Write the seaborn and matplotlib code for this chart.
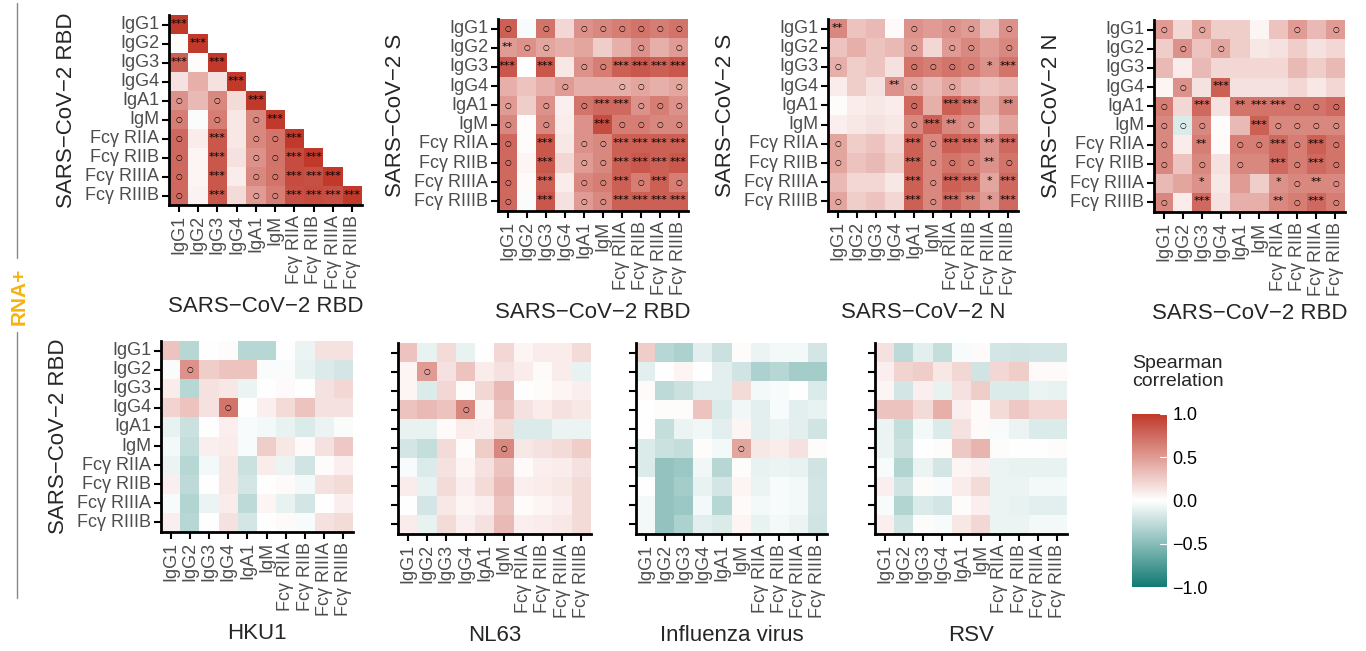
import numpy as np
import pandas as pd
import matplotlib
matplotlib.use("Agg")
import matplotlib.pyplot as plt
import seaborn as sns
from matplotlib.colors import LinearSegmentedColormap
from matplotlib.lines import Line2D

features = ["IgG1", "IgG2", "IgG3", "IgG4", "IgA1", "IgM",
            "Fcγ RIIA", "Fcγ RIIB", "Fcγ RIIIA", "Fcγ RIIIB"]

# --- correlation values (rows = y feature, cols = x feature) ---
rbd_rbd = [
    [1.0],
    [0.02, 1.0],
    [0.80, 0.02, 1.0],
    [0.15, 0.40, 0.15, 1.0],
    [0.55, 0.35, 0.60, 0.18, 1.0],
    [0.65, -0.02, 0.65, 0.12, 0.60, 1.0],
    [0.75, 0.10, 0.85, 0.12, 0.60, 0.70, 1.0],
    [0.75, 0.05, 0.85, 0.15, 0.55, 0.70, 0.90, 1.0],
    [0.75, 0.05, 0.85, 0.10, 0.60, 0.70, 0.90, 0.88, 1.0],
    [0.75, 0.06, 0.85, 0.18, 0.50, 0.65, 0.88, 0.90, 0.88, 1.0],
]
rbd_rbd_sig = [
    "***",
    ". ***",
    "*** . ***",
    ". . . ***",
    "o . o . ***",
    "o . o . o ***",
    "o . *** . o o ***",
    "o . *** . o o *** ***",
    "o . *** . o o *** *** ***",
    "o . *** . o o *** *** *** ***",
]

s_rbd = [
    [0.80, -0.03, 0.70, 0.20, 0.55, 0.60, 0.65, 0.70, 0.65, 0.70],
    [0.50, 0.55, 0.45, 0.40, 0.45, 0.25, 0.40, 0.55, 0.40, 0.50],
    [0.85, 0.00, 0.85, 0.12, 0.55, 0.65, 0.80, 0.85, 0.80, 0.85],
    [0.40, 0.30, 0.40, 0.50, 0.40, 0.40, 0.40, 0.45, 0.40, 0.45],
    [0.50, 0.25, 0.55, 0.08, 0.70, 0.75, 0.75, 0.55, 0.65, 0.55],
    [0.60, 0.02, 0.60, 0.10, 0.55, 0.90, 0.65, 0.65, 0.60, 0.60],
    [0.75, 0.02, 0.85, 0.12, 0.55, 0.60, 0.80, 0.80, 0.80, 0.80],
    [0.75, 0.05, 0.85, 0.20, 0.50, 0.60, 0.80, 0.85, 0.80, 0.85],
    [0.75, 0.03, 0.80, 0.10, 0.60, 0.65, 0.80, 0.65, 0.80, 0.65],
    [0.75, -0.02, 0.85, 0.15, 0.50, 0.60, 0.80, 0.80, 0.80, 0.80],
]
s_rbd_sig = [
    "o . o . o o o o o o",
    "** o o . . . . o . o",
    "*** . *** . o o *** *** *** ***",
    ". . . o . . o o . o",
    "o . o . o *** *** o o o",
    "o . o . . *** o o o o",
    "o . *** . o o *** *** *** ***",
    "o . *** . o o *** *** *** ***",
    "o . *** . o o *** o *** o",
    "o . *** . o o *** *** *** ***",
]

s_n = [
    [0.60, 0.30, 0.35, 0.03, 0.55, 0.50, 0.55, 0.50, 0.30, 0.55],
    [0.30, 0.40, 0.30, 0.35, 0.50, 0.20, 0.50, 0.60, 0.50, 0.60],
    [0.40, 0.25, 0.30, 0.15, 0.70, 0.65, 0.70, 0.65, 0.55, 0.70],
    [0.10, 0.25, 0.15, 0.55, 0.45, 0.35, 0.45, 0.35, 0.30, 0.35],
    [0.02, 0.10, 0.12, 0.10, 0.75, 0.40, 0.80, 0.70, 0.40, 0.60],
    [0.08, 0.12, 0.15, 0.12, 0.60, 0.80, 0.60, 0.55, 0.30, 0.45],
    [0.45, 0.25, 0.30, 0.20, 0.80, 0.60, 0.80, 0.75, 0.55, 0.75],
    [0.45, 0.30, 0.35, 0.25, 0.80, 0.60, 0.70, 0.65, 0.55, 0.70],
    [0.35, 0.20, 0.20, 0.12, 0.80, 0.60, 0.80, 0.75, 0.45, 0.75],
    [0.45, 0.25, 0.30, 0.20, 0.80, 0.60, 0.75, 0.65, 0.50, 0.75],
]
s_n_sig = [
    "** . . . o . o o . o",
    ". . . . o . o o . o",
    "o . . . o o o o * ***",
    ". . . ** o . o . . .",
    ". . . . o . *** *** . **",
    ". . . . o *** ** o . .",
    "o . . . *** o *** *** ** ***",
    "o . . . *** o o o ** o",
    ". . . . *** o *** *** * ***",
    "o . . . *** o *** ** * ***",
]

n_rbd = [
    [0.50, 0.20, 0.45, 0.25, 0.25, 0.05, 0.30, 0.50, 0.35, 0.50],
    [0.25, 0.55, 0.30, 0.45, 0.25, 0.12, 0.15, 0.25, 0.15, 0.20],
    [0.35, 0.10, 0.35, 0.20, 0.20, 0.20, 0.20, 0.35, 0.25, 0.35],
    [0.05, 0.55, 0.15, 0.80, 0.15, 0.15, 0.15, 0.20, 0.12, 0.20],
    [0.65, 0.20, 0.75, 0.15, 0.70, 0.70, 0.70, 0.70, 0.70, 0.75],
    [0.60, -0.15, 0.60, 0.02, 0.35, 0.80, 0.60, 0.60, 0.60, 0.60],
    [0.60, 0.10, 0.65, 0.03, 0.65, 0.65, 0.75, 0.65, 0.80, 0.70],
    [0.60, 0.30, 0.60, 0.15, 0.60, 0.60, 0.75, 0.65, 0.75, 0.70],
    [0.35, 0.45, 0.55, 0.12, 0.50, 0.25, 0.55, 0.60, 0.60, 0.60],
    [0.60, 0.10, 0.75, 0.15, 0.40, 0.40, 0.60, 0.65, 0.75, 0.65],
]
n_rbd_sig = [
    "o . o . . . . o . o",
    ". o . o . . . . . .",
    ". . . . . . . . . .",
    ". o . *** . . . . . .",
    "o . *** . ** *** *** o o o",
    "o o o . . *** o o o o",
    "o . ** . o o *** o *** o",
    "o . o . o . *** o *** o",
    ". . * . . . * o ** o",
    "o . *** . . . ** o *** o",
]

hku1 = [
    [0.30, -0.30, 0.00, 0.02, -0.30, -0.30, 0.00, -0.08, 0.15, 0.15],
    [-0.02, 0.55, 0.25, 0.30, 0.30, -0.02, -0.02, -0.10, -0.15, -0.18],
    [0.10, -0.30, 0.15, 0.12, -0.08, 0.00, 0.03, 0.00, 0.15, 0.20],
    [0.22, 0.30, 0.15, 0.70, 0.00, 0.08, 0.18, 0.30, 0.15, 0.15],
    [-0.10, -0.22, 0.00, 0.08, -0.03, -0.05, -0.10, -0.15, -0.08, -0.02],
    [-0.05, -0.25, 0.08, 0.10, -0.03, 0.25, 0.12, 0.03, 0.15, 0.28],
    [-0.08, -0.30, -0.05, 0.12, -0.22, 0.10, -0.08, -0.20, 0.02, 0.08],
    [0.08, -0.28, 0.00, 0.12, -0.18, 0.00, 0.03, -0.05, 0.15, 0.18],
    [-0.03, -0.32, -0.08, 0.10, -0.28, 0.05, -0.10, -0.18, 0.00, 0.08],
    [0.08, -0.30, 0.00, 0.15, -0.18, 0.00, 0.03, -0.03, 0.15, 0.18],
]
hku1_sig = ["", ". o", "", ". . . o"]

nl63 = [
    [0.30, -0.10, 0.18, -0.10, 0.00, 0.20, 0.05, 0.10, 0.10, 0.18],
    [0.05, 0.50, 0.15, 0.30, 0.10, 0.15, 0.10, 0.03, 0.10, -0.10],
    [0.05, -0.15, 0.20, 0.02, 0.20, 0.35, 0.00, 0.02, 0.05, 0.08],
    [0.30, 0.35, 0.30, 0.60, 0.05, 0.30, 0.15, 0.10, 0.15, 0.12],
    [-0.10, -0.10, 0.03, 0.10, 0.08, 0.18, -0.15, -0.15, -0.08, -0.08],
    [-0.18, -0.25, 0.18, 0.02, 0.25, 0.60, 0.12, 0.15, 0.18, 0.25],
    [-0.03, -0.15, 0.15, 0.05, 0.15, 0.30, 0.03, 0.08, 0.10, 0.15],
    [0.10, -0.10, 0.18, 0.08, 0.18, 0.35, 0.08, 0.10, 0.12, 0.18],
    [0.00, -0.18, 0.12, 0.05, 0.08, 0.30, 0.02, 0.05, 0.08, 0.18],
    [0.10, -0.10, 0.18, 0.08, 0.15, 0.35, 0.08, 0.10, 0.12, 0.18],
]
nl63_sig = ["", ". o", "", ". . . o", "", ". . . . . o"]

flu = [
    [0.25, -0.30, -0.35, -0.12, -0.22, 0.02, -0.08, -0.05, -0.05, -0.18],
    [-0.12, 0.00, 0.05, 0.00, -0.12, -0.20, -0.35, -0.30, -0.38, -0.38],
    [0.03, -0.28, -0.22, -0.12, -0.12, 0.18, -0.05, -0.03, 0.00, -0.15],
    [0.00, 0.02, 0.02, 0.30, -0.15, -0.06, -0.12, -0.03, -0.12, -0.10],
    [0.00, -0.25, -0.08, -0.06, -0.12, 0.05, -0.12, -0.08, -0.12, -0.20],
    [-0.15, -0.22, -0.25, 0.02, -0.05, 0.45, 0.12, 0.10, 0.15, 0.02],
    [-0.15, -0.45, -0.42, -0.06, -0.30, 0.02, -0.10, -0.08, -0.10, -0.20],
    [0.00, -0.45, -0.38, -0.10, -0.18, 0.05, -0.08, -0.03, -0.05, -0.18],
    [-0.05, -0.45, -0.42, -0.05, -0.30, 0.03, -0.05, -0.03, -0.05, -0.18],
    [-0.05, -0.45, -0.35, -0.12, -0.15, 0.05, -0.10, -0.05, -0.08, -0.20],
]
flu_sig = ["", "", "", "", "", ". . . . . o"]

rsv = [
    [0.15, -0.28, -0.12, -0.25, -0.03, 0.03, -0.18, -0.20, -0.18, -0.18],
    [0.08, 0.22, 0.25, 0.12, 0.20, -0.20, 0.20, 0.25, 0.03, 0.03],
    [0.05, -0.18, 0.08, -0.10, 0.15, 0.25, -0.15, -0.15, -0.08, -0.10],
    [0.30, 0.30, 0.18, 0.40, 0.08, 0.03, 0.18, 0.28, 0.20, 0.20],
    [-0.08, -0.25, -0.05, -0.15, 0.15, 0.03, -0.03, -0.08, -0.15, -0.15],
    [-0.08, -0.22, 0.00, 0.02, 0.28, 0.38, 0.02, 0.00, 0.00, 0.02],
    [-0.03, -0.32, -0.08, -0.18, 0.05, 0.08, -0.08, -0.10, -0.10, -0.10],
    [0.08, -0.20, 0.02, -0.03, 0.10, 0.18, -0.08, -0.08, -0.05, -0.05],
    [-0.03, -0.32, -0.15, -0.18, 0.02, 0.08, -0.08, -0.10, -0.12, -0.12],
    [0.08, -0.20, 0.02, -0.03, 0.12, 0.20, -0.08, -0.08, -0.05, -0.05],
]
rsv_sig = []

cbar_ticks = [-1.0, -0.5, 0.0, 0.5, 1.0]
cbar_labels = ["−1.0", "−0.5", "0.0", "0.5", "1.0"]

# ---------------------------------------------------------------
sns.set_style("white")
plt.rcParams["font.family"] = ["Liberation Sans", "DejaVu Sans"]

W, H = 1366, 651
fig = plt.figure(figsize=(W / 100, H / 100), dpi=100)
cmap = LinearSegmentedColormap.from_list("spear", ["#117a72", "#ffffff", "#c0392b"])


def add_ax(left, top, right, bottom):
    return fig.add_axes([left / W, 1 - bottom / H, (right - left) / W, (bottom - top) / H])


def panel(box, vals, sig, ylab, xlab, show_y=True):
    ax = add_ax(*box)
    mat = np.full((10, 10), np.nan)
    for i, row in enumerate(vals):
        mat[i, :len(row)] = row
    df = pd.DataFrame(mat, index=features, columns=features)
    sns.heatmap(df, ax=ax, cmap=cmap, vmin=-1, vmax=1, cbar=False,
                mask=np.isnan(mat), square=False)
    # significance marks
    for i, s in enumerate(sig):
        for j, t in enumerate(s.split()):
            if t == ".":
                continue
            if t == "o":
                ax.text(j + 0.5, i + 0.5, "○", ha="center", va="center",
                        fontsize=5.5, family="DejaVu Sans", color="black")
            else:
                ax.text(j + 0.5, i + 0.45, t, ha="center", va="center",
                        fontsize=8, family="DejaVu Sans", color="black")
    ax.set_xticks(np.arange(10) + 0.5)
    ax.set_xticklabels(features, rotation=90, ha="center", va="top")
    ax.set_yticks(np.arange(10) + 0.5)
    if show_y:
        ax.set_yticklabels(features, rotation=0)
    else:
        ax.set_yticklabels([])
    ax.tick_params(axis="both", length=5, width=1.5, color="black",
                   labelcolor="#4d4d4d", labelsize=13, left=True, bottom=True, pad=2)
    for side in ["left", "bottom"]:
        ax.spines[side].set_visible(True)
        ax.spines[side].set_linewidth(2)
        ax.spines[side].set_color("black")
    ax.set_xlabel(xlab, fontsize=16, labelpad=5)
    ax.set_ylabel(ylab if show_y else "", fontsize=16, labelpad=6)
    return ax


panel((169, 15, 362, 205), rbd_rbd, rbd_rbd_sig, "SARS−CoV−2 RBD", "SARS−CoV−2 RBD")
panel((498, 19, 688, 211), s_rbd, s_rbd_sig, "SARS−CoV−2 S", "SARS−CoV−2 RBD")
panel((828, 19, 1018, 211), s_n, s_n_sig, "SARS−CoV−2 S", "SARS−CoV−2 N")
panel((1154, 20, 1345, 212), n_rbd, n_rbd_sig, "SARS−CoV−2 N", "SARS−CoV−2 RBD")
panel((161, 341, 353, 532), hku1, hku1_sig, "SARS−CoV−2 RBD", "HKU1")
panel((398, 343, 591, 534), nl63, nl63_sig, "", "NL63", show_y=False)
panel((636, 343, 827, 534), flu, flu_sig, "", "Influenza virus", show_y=False)
panel((875, 343, 1067, 534), rsv, rsv_sig, "", "RSV", show_y=False)

# colour bar
cax = add_ax(1132, 414, 1167, 587)
sm = plt.cm.ScalarMappable(cmap=cmap, norm=plt.Normalize(-1, 1))
cb = fig.colorbar(sm, cax=cax, ticks=cbar_ticks)
cb.set_ticklabels(cbar_labels)
cb.outline.set_visible(False)
cax.tick_params(length=0, labelsize=13, pad=4, labelcolor="black")
for v in cbar_ticks:
    cax.axhline(v, xmin=0.8, xmax=1.0, color="white", lw=0.8)
fig.text(1132 / W, 1 - 355 / H, "Spearman\ncorrelation", fontsize=14,
         ha="left", va="top", linespacing=1.05)

# RNA+ group label
fig.add_artist(Line2D([17 / W, 17 / W], [1 - 3 / H, 1 - 258 / H], color="#888888", lw=1))
fig.add_artist(Line2D([17 / W, 17 / W], [1 - 332 / H, 1 - 598 / H], color="#888888", lw=1))
fig.text(19 / W, 1 - 296 / H, "RNA+", rotation=90, color="#f7b30c", fontsize=15,
         fontweight="bold", ha="center", va="center")

fig.savefig("out.png", dpi=100)
